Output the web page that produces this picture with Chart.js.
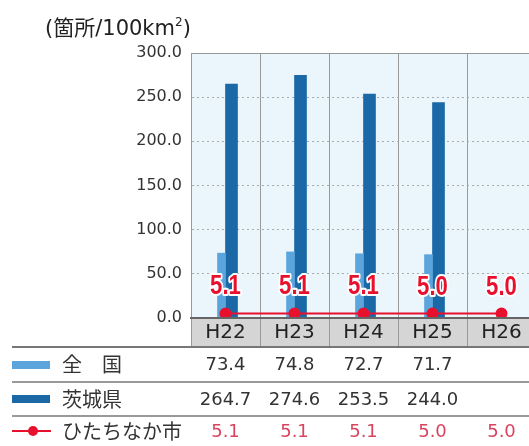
<!DOCTYPE html>
<html lang="ja">
<head>
<meta charset="UTF-8">
<title>箇所数の推移</title>
<style>
    html, body {
        margin: 0;
        padding: 0;
        overflow: hidden;
        background: #fff;
    }
    #wrap {
        position: relative;
        width: 529px;
        height: 446px;
    }
    #chart { display: block; }
    #unit {
        position: absolute;
        left: 45px;
        top: 11px;
        font-family: "DejaVu Sans", "Noto Sans CJK JP", sans-serif;
        font-size: 21px;
        color: #222;
        white-space: nowrap;
    }
    #unit .jp { font-family: "Noto Sans CJK JP", sans-serif; }
    #unit sup { font-size: 12px; position: relative; top: -1px; }
</style>
</head>
<body>
<div id="wrap">
    <div id="unit">(<span class="jp">箇所</span>/100km<sup>2</sup>)</div>
    <canvas id="chart" width="529" height="446"></canvas>
</div>
<script src="https://cdn.jsdelivr.net/npm/chart.js@4/dist/chart.umd.min.js"></script>
<script>
const years = ['H22', 'H23', 'H24', 'H25', 'H26'];
const national = [73.4, 74.8, 72.7, 71.7, null];
const ibaraki = [264.7, 274.6, 253.5, 244.0, null];
const hitachinaka = [5.1, 5.1, 5.1, 5.0, 5.0];
const yTicks = [0, 50, 100, 150, 200, 250, 300];

const rowNames = ['全　国', '茨城県', 'ひたちなか市'];
const rowData = [national, ibaraki, hitachinaka];

const LIGHT = '#5ba4dc';
const DARK = '#1a68a6';
const RED = '#e8112d';
const NUM_FONT = '"DejaVu Sans", sans-serif';
const JP_FONT = '"Noto Sans CJK JP", sans-serif';
const PLOT_RIGHT = 536;   // last column runs a little past the canvas edge

// stretch the plot area past the right edge of the canvas
const widenPlot = {
    id: 'widenPlot',
    afterLayout(chart) {
        const a = chart.chartArea;
        const x = chart.scales.x;
        a.right = PLOT_RIGHT;
        a.width = a.right - a.left;
        x.right = PLOT_RIGHT;
        x.width = x.right - x.left;
        x.configure();
    }
};

// plot background and the grey header strip under the axis
const backdrop = {
    id: 'backdrop',
    beforeDraw(chart) {
        const { ctx, chartArea: a } = chart;
        ctx.save();
        ctx.fillStyle = '#eaf5fc';
        ctx.fillRect(a.left, a.top, a.right - a.left, a.bottom - a.top);
        ctx.fillStyle = '#d5d5d5';
        ctx.fillRect(a.left, a.bottom, a.right - a.left, 28);
        ctx.restore();
    }
};

// value labels above the line points (narrow bold, white halo)
const pointLabels = {
    id: 'pointLabels',
    afterDatasetsDraw(chart) {
        const { ctx } = chart;
        const meta = chart.getDatasetMeta(2);
        const sx = 0.82;
        ctx.save();
        ctx.font = 'bold 27px "Liberation Sans", sans-serif';
        ctx.textAlign = 'center';
        ctx.textBaseline = 'alphabetic';
        ctx.lineJoin = 'round';
        meta.data.forEach((pt, i) => {
            const txt = hitachinaka[i].toFixed(1);
            ctx.save();
            ctx.translate(pt.x, pt.y - 19);
            ctx.scale(sx, 1);
            ctx.strokeStyle = '#fff';
            ctx.lineWidth = 4;
            ctx.strokeText(txt, 0, 0);
            ctx.fillStyle = RED;
            ctx.fillText(txt, 0, 0);
            ctx.restore();
        });
        ctx.restore();
    }
};

// data table under the chart
const dataTable = {
    id: 'dataTable',
    afterDraw(chart) {
        const { ctx, chartArea: a, scales: { x } } = chart;
        const half = (x.getPixelForValue(1) - x.getPixelForValue(0)) / 2;
        const headBottom = a.bottom + 28;

        ctx.save();
        // plot frame top and axis line
        ctx.strokeStyle = '#999';
        ctx.lineWidth = 1;
        ctx.beginPath();
        ctx.moveTo(a.left, a.top + 0.5);
        ctx.lineTo(a.right, a.top + 0.5);
        ctx.stroke();

        // header separators
        ctx.beginPath();
        years.forEach((y, i) => {
            const bx = Math.round(x.getPixelForValue(i) - half) + 0.5;
            ctx.moveTo(bx, a.bottom);
            ctx.lineTo(bx, headBottom);
        });
        ctx.stroke();

        ctx.strokeStyle = '#666';
        ctx.lineWidth = 2;
        ctx.beginPath();
        ctx.moveTo(a.left, a.bottom);
        ctx.lineTo(a.right, a.bottom);
        ctx.stroke();

        // row rules
        const rules = [headBottom + 1, 382, 416];
        ctx.strokeStyle = '#777';
        rules.forEach((ry, k) => {
            ctx.lineWidth = k === 0 ? 2 : 1.5;
            ctx.beginPath();
            ctx.moveTo(12, ry);
            ctx.lineTo(a.right, ry);
            ctx.stroke();
        });

        // legend keys
        const rowY = [364, 399, 431];
        ctx.fillStyle = LIGHT;
        ctx.fillRect(12, rowY[0] - 3, 38, 8);
        ctx.fillStyle = DARK;
        ctx.fillRect(12, rowY[1] - 4, 38, 8);
        ctx.strokeStyle = RED;
        ctx.lineWidth = 2;
        ctx.beginPath();
        ctx.moveTo(12, rowY[2]);
        ctx.lineTo(51, rowY[2]);
        ctx.stroke();
        ctx.fillStyle = RED;
        ctx.beginPath();
        ctx.arc(33, rowY[2], 5, 0, Math.PI * 2);
        ctx.fill();

        // row names
        ctx.textBaseline = 'middle';
        ctx.textAlign = 'left';
        ctx.font = '20px ' + JP_FONT;
        ctx.fillStyle = '#333';
        rowNames.forEach((name, r) => ctx.fillText(name, 62, rowY[r]));

        // values
        ctx.textAlign = 'center';
        ctx.font = '18px ' + NUM_FONT;
        rowData.forEach((vals, r) => {
            ctx.fillStyle = r === 2 ? '#d9435e' : '#333';
            vals.forEach((v, i) => {
                if (v === null) return;
                ctx.fillText(v.toFixed(1), x.getPixelForValue(i), rowY[r] + 1);
            });
        });
        ctx.restore();
    }
};

const ctx = document.getElementById('chart').getContext('2d');
const chart = new Chart(ctx, {
    data: {
        labels: years,
        datasets: [
            {
                type: 'bar',
                label: '全国',
                data: national,
                backgroundColor: LIGHT,
                barThickness: 8,
                order: 1
            },
            {
                type: 'bar',
                label: '茨城県',
                data: ibaraki,
                backgroundColor: DARK,
                barThickness: 12,
                order: 1
            },
            {
                type: 'line',
                label: 'ひたちなか市',
                data: hitachinaka,
                borderColor: RED,
                borderWidth: 2,
                pointBackgroundColor: RED,
                pointBorderColor: RED,
                pointRadius: 5,
                tension: 0,
                order: 0
            }
        ]
    },
    options: {
        responsive: false,
        animation: false,
        events: [],
        layout: {
            padding: { left: 0, right: 0, top: 53, bottom: 100 }
        },
        plugins: {
            legend: { display: false },
            tooltip: { enabled: false }
        },
        scales: {
            x: {
                offset: true,
                grid: { offset: true, color: '#999', drawTicks: false },
                border: { display: true, color: '#666', width: 2 },
                ticks: {
                    padding: 3,
                    color: '#222',
                    font: { family: NUM_FONT, size: 20 }
                },
                afterFit(scale) { scale.height = 28; }
            },
            y: {
                min: 0,
                max: 300,
                afterBuildTicks(scale) {
                    scale.ticks = yTicks.map(v => ({ value: v }));
                },
                grid: { color: '#aaa', drawTicks: false },
                border: { display: true, color: '#999', width: 1, dash: [2, 3] },
                ticks: {
                    padding: 9,
                    color: '#333',
                    font: { family: NUM_FONT, size: 16 },
                    callback: v => v.toFixed(1)
                },
                afterFit(scale) { scale.width = 191; }
            }
        }
    },
    plugins: [widenPlot, backdrop, pointLabels, dataTable]
});
</script>
</body>
</html>
